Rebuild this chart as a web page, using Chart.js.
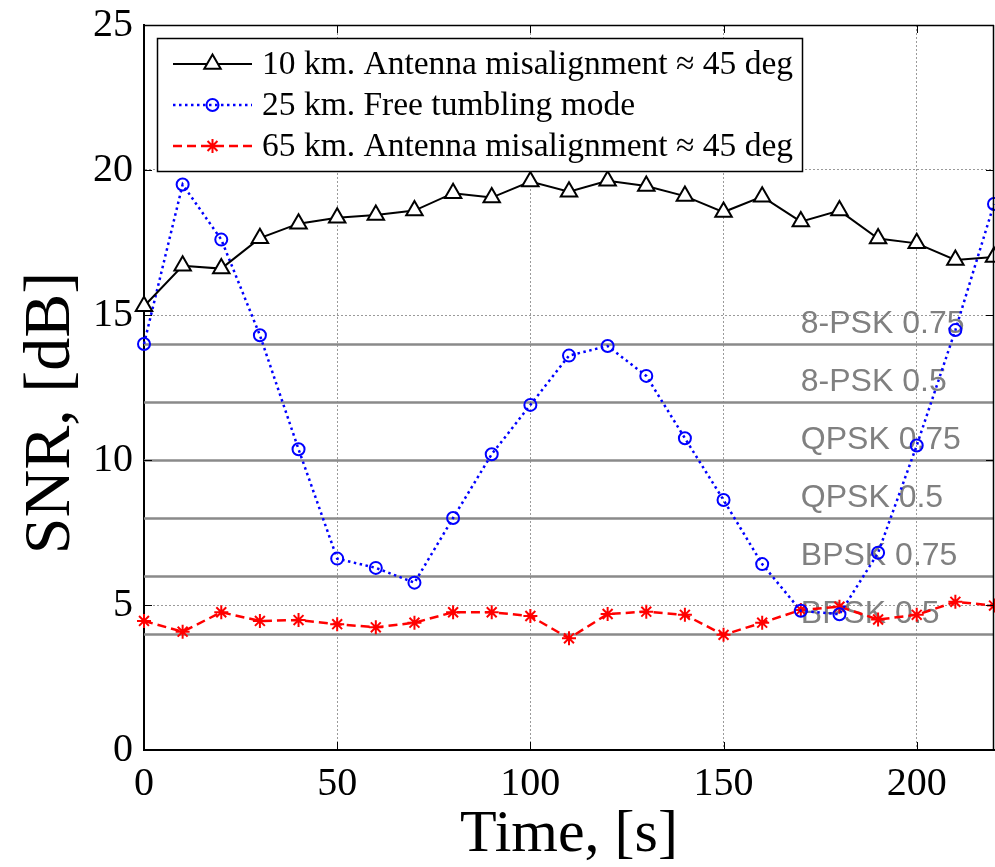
<!DOCTYPE html>
<html>
<head>
<meta charset="utf-8">
<script src="https://cdn.jsdelivr.net/npm/chart.js@4/dist/chart.umd.min.js"></script>
<style>
  html, body { margin: 0; padding: 0; background: #fff; }
  #wrap { width: 995px; height: 867px; }
</style>
</head>
<body>
<div id="wrap"><canvas id="snrChart" width="995" height="867"></canvas></div>
<script>
// Time stamps of the measurements, seconds
const timeSec = [0, 10, 20, 30, 40, 50, 60, 70, 80, 90, 100, 110,
                 120, 130, 140, 150, 160, 170, 180, 190, 200, 210, 220];

// SNR, dB, for each pass
const snr10km = [15.3, 16.7, 16.6, 17.65, 18.15, 18.35, 18.45, 18.6, 19.2, 19.05, 19.6, 19.25,
                 19.63, 19.45, 19.1, 18.55, 19.08, 18.22, 18.6, 17.64, 17.47, 16.9, 17.0];
const snr25km = [14.0, 19.5, 17.6, 14.3, 10.37, 6.6, 6.28, 5.77, 8.0, 10.2, 11.9, 13.6,
                 13.93, 12.9, 10.75, 8.62, 6.41, 4.8, 4.68, 6.8, 10.5, 14.48, 18.83];
const snr65km = [4.45, 4.08, 4.75, 4.45, 4.48, 4.34, 4.23, 4.39, 4.75, 4.75, 4.62, 3.85,
                 4.69, 4.77, 4.66, 3.97, 4.39, 4.83, 4.94, 4.5, 4.66, 5.11, 4.98];

const seriesLabels = [
  '10 km. Antenna misalignment \u2248 45 deg',
  '25 km. Free tumbling mode',
  '65 km. Antenna misalignment \u2248 45 deg'
];

// Required SNR for each modulation / code rate
const modcodLevels = [14, 12, 10, 8, 6, 4];
const modcodNames = ['8-PSK 0.75', '8-PSK 0.5', 'QPSK 0.75', 'QPSK 0.5', 'BPSK 0.75', 'BPSK 0.5'];

// Axis ticks and titles
const xTicks = [0, 50, 100, 150, 200];
const yTicks = [0, 5, 10, 15, 20, 25];
const xTitle = 'Time, [s]';
const yTitle = 'SNR, [dB]';

const SERIF = '"Liberation Serif", "Times New Roman", serif';

const toPoints = (xs, ys) => xs.map((x, i) => ({ x: x, y: ys[i] }));

// Horizontal threshold lines with their labels
const modcodPlugin = {
  id: 'modcodLines',
  beforeDatasetsDraw(chart, args, opts) {
    const { ctx, chartArea } = chart;
    const xs = chart.scales.x, ys = chart.scales.y;
    ctx.save();
    ctx.strokeStyle = opts.lineColor;
    ctx.lineWidth = opts.lineWidth;
    modcodLevels.forEach((lvl) => {
      const py = Math.round(ys.getPixelForValue(lvl)) + 0.5;
      ctx.beginPath();
      ctx.moveTo(chartArea.left, py);
      ctx.lineTo(chartArea.right, py);
      ctx.stroke();
    });
    ctx.fillStyle = opts.textColor;
    ctx.font = opts.font;
    ctx.textAlign = 'left';
    ctx.textBaseline = 'alphabetic';
    const lx = xs.getPixelForValue(opts.labelAt);
    modcodLevels.forEach((lvl, i) => {
      const py = ys.getPixelForValue(lvl);
      ctx.fillText(modcodNames[i], lx, py - opts.gap);
    });
    ctx.restore();
  }
};

// Top/right box edges, inward tick marks and the vertical axis title
const framePlugin = {
  id: 'axesFrame',
  afterDatasetsDraw(chart, args, opts) {
    const { ctx, chartArea: a } = chart;
    const xs = chart.scales.x, ys = chart.scales.y;
    ctx.save();
    ctx.strokeStyle = '#000';
    ctx.lineWidth = 1.5;
    ctx.beginPath();
    ctx.moveTo(a.left, a.top + 0.5);
    ctx.lineTo(a.right, a.top + 0.5);
    ctx.moveTo(a.right - 0.5, a.top);
    ctx.lineTo(a.right - 0.5, a.bottom);
    ctx.stroke();
    ctx.lineWidth = 1;
    const L = opts.tickLen;
    ctx.beginPath();
    xTicks.forEach((v) => {
      const px = Math.round(xs.getPixelForValue(v)) + 0.5;
      ctx.moveTo(px, a.bottom); ctx.lineTo(px, a.bottom - L);
      ctx.moveTo(px, a.top); ctx.lineTo(px, a.top + L);
    });
    yTicks.forEach((v) => {
      const py = Math.round(ys.getPixelForValue(v)) + 0.5;
      ctx.moveTo(a.left, py); ctx.lineTo(a.left + L, py);
      ctx.moveTo(a.right, py); ctx.lineTo(a.right - L, py);
    });
    ctx.stroke();

    // vertical axis title
    ctx.translate(opts.yTitleX, opts.yTitleY);
    ctx.rotate(-Math.PI / 2);
    ctx.fillStyle = '#000';
    ctx.font = opts.yTitleFont;
    ctx.textAlign = 'center';
    ctx.textBaseline = 'middle';
    ctx.fillText(yTitle, 0, 0);
    ctx.restore();
  }
};

// Boxed legend inside the plot, upper left
const legendBoxPlugin = {
  id: 'legendBox',
  afterDraw(chart, args, opts) {
    const { ctx } = chart;
    const b = opts.box;
    ctx.save();
    ctx.fillStyle = '#fff';
    ctx.fillRect(b.x, b.y, b.w, b.h);
    ctx.strokeStyle = '#000';
    ctx.lineWidth = 1.5;
    ctx.strokeRect(b.x + 0.5, b.y + 0.5, b.w, b.h);
    chart.data.datasets.forEach((ds, i) => {
      const cy = opts.firstRow + i * opts.rowGap;
      ctx.save();
      ctx.strokeStyle = ds.borderColor;
      ctx.lineWidth = ds.borderWidth;
      ctx.setLineDash(ds.borderDash || []);
      ctx.beginPath();
      ctx.moveTo(opts.lineX0, cy);
      ctx.lineTo(opts.lineX1, cy);
      ctx.stroke();
      ctx.setLineDash([]);
      ctx.strokeStyle = ds.pointBorderColor;
      ctx.fillStyle = ds.pointBackgroundColor;
      ctx.lineWidth = ds.pointBorderWidth;
      Chart.helpers.drawPoint(ctx, {
        pointStyle: ds.pointStyle, radius: ds.pointRadius,
        borderWidth: ds.pointBorderWidth, rotation: 0
      }, (opts.lineX0 + opts.lineX1) / 2, cy);
      ctx.restore();
      ctx.fillStyle = '#000';
      ctx.font = opts.font;
      ctx.textAlign = 'left';
      ctx.textBaseline = 'middle';
      ctx.fillText(ds.label, opts.textX, cy + 1);
    });
    ctx.restore();
  }
};

const ctx = document.getElementById('snrChart').getContext('2d');
new Chart(ctx, {
  type: 'line',
  data: {
    datasets: [
      {
        label: seriesLabels[0],
        data: toPoints(timeSec, snr10km),
        borderColor: '#000',
        borderWidth: 2,
        pointStyle: 'triangle',
        pointRadius: 9.5,
        pointBorderWidth: 2,
        pointBorderColor: '#000',
        pointBackgroundColor: '#fff',
        clip: false
      },
      {
        label: seriesLabels[1],
        data: toPoints(timeSec, snr25km),
        borderColor: '#0000ff',
        borderWidth: 2.5,
        borderDash: [2.5, 3.5],
        pointStyle: 'circle',
        pointRadius: 6,
        pointBorderWidth: 2,
        pointBorderColor: '#0000ff',
        pointBackgroundColor: 'rgba(0,0,0,0)',
        clip: false
      },
      {
        label: seriesLabels[2],
        data: toPoints(timeSec, snr65km),
        borderColor: '#ff0000',
        borderWidth: 2.5,
        borderDash: [9, 5],
        pointStyle: 'star',
        pointRadius: 7,
        pointBorderWidth: 2,
        pointBorderColor: '#ff0000',
        pointBackgroundColor: '#ff0000',
        clip: false
      }
    ]
  },
  options: {
    responsive: false,
    animation: false,
    events: [],
    layout: { autoPadding: false, padding: { top: 25, right: 1, left: 0, bottom: 0 } },
    elements: { line: { tension: 0, fill: false } },
    plugins: {
      legend: { display: false },
      tooltip: { enabled: false },
      modcodLines: {
        lineColor: '#8a8a8a', lineWidth: 2.5, textColor: '#808080',
        font: '32px "Liberation Sans", Arial, sans-serif', labelAt: 170, gap: 11
      },
      axesFrame: {
        tickLen: 8,
        yTitleX: 52, yTitleY: 413,
        yTitleFont: '66px ' + SERIF
      },
      legendBox: {
        box: { x: 157, y: 38, w: 645, h: 133 },
        firstRow: 64, rowGap: 41,
        lineX0: 173, lineX1: 252, textX: 262,
        font: '33.5px ' + SERIF
      }
    },
    scales: {
      x: {
        type: 'linear',
        min: 0,
        max: 220,
        afterBuildTicks: (s) => { s.ticks = xTicks.map((v) => ({ value: v })); },
        afterFit: (s) => { s.height = 117; s.paddingLeft = 0; s.paddingRight = 0; },
        grid: { color: '#9a9a9a', lineWidth: 1, drawTicks: false },
        border: { display: true, color: '#000', width: 2, dash: [2, 2] },
        ticks: { color: '#000', padding: 10, maxRotation: 0,
                 font: { family: SERIF, size: 40, lineHeight: 1.2 } },
        title: { display: true, text: xTitle, color: '#000',
                 font: { family: SERIF, size: 60, lineHeight: 1 },
                 padding: { top: 0, bottom: 2 } }
      },
      y: {
        type: 'linear',
        min: 0,
        max: 25,
        afterBuildTicks: (s) => { s.ticks = yTicks.map((v) => ({ value: v })); },
        afterFit: (s) => { s.width = 144; s.paddingTop = 0; s.paddingBottom = 0; },
        grid: { color: '#9a9a9a', lineWidth: 1, drawTicks: false },
        border: { display: true, color: '#000', width: 2, dash: [2, 2] },
        ticks: { color: '#000', padding: 11,
                 font: { family: SERIF, size: 40, lineHeight: 1.2 } }
      }
    }
  },
  plugins: [modcodPlugin, framePlugin, legendBoxPlugin]
});
</script>
</body>
</html>
